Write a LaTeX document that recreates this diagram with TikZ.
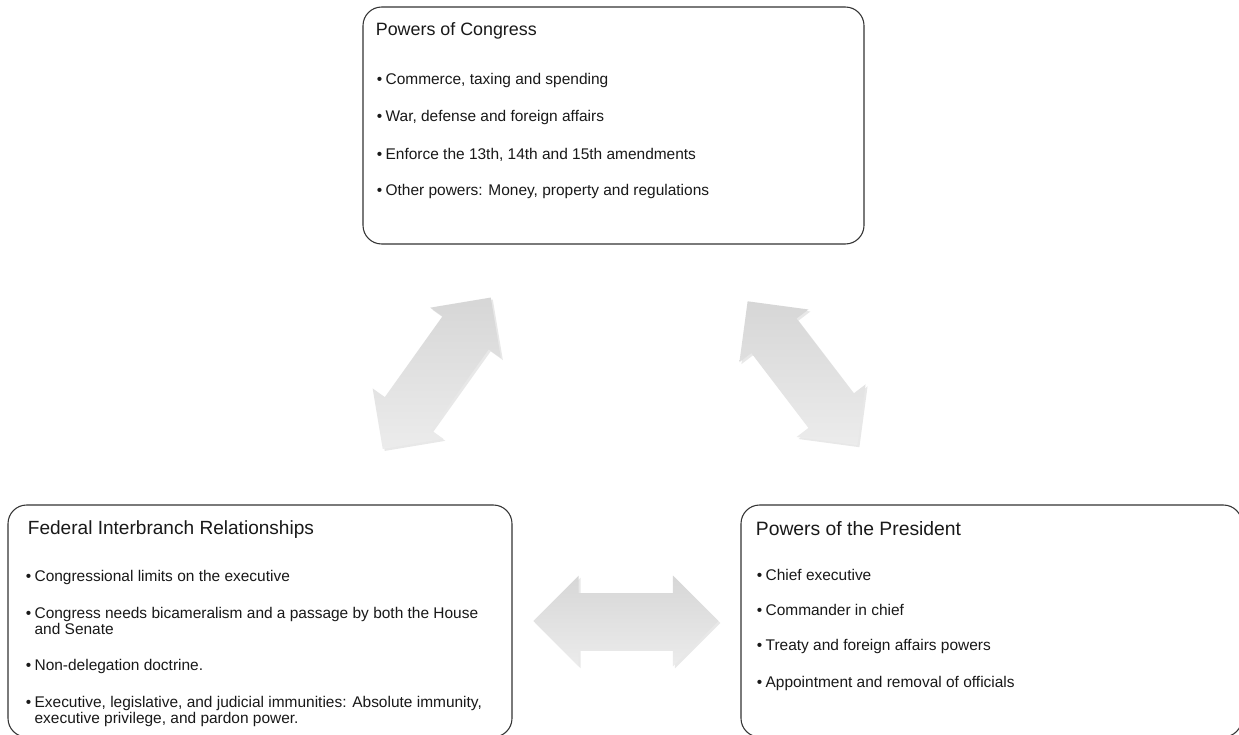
\documentclass[tikz,border=0pt]{standalone}
\usepackage{fontspec}
\setmainfont{Liberation Sans}
\usetikzlibrary{positioning, calc, shapes.arrows, shadows}

\newcommand\bitem{\textbullet\hspace{2.5pt}}
\newcommand\bcont{\hphantom{\textbullet\hspace{2.5pt}}}

\begin{document}
\begin{tikzpicture}[x=0.75pt, y=-0.75pt, semithick]
		\tikzstyle{box}=[draw=black!80, line width=0.8pt, rounded corners=14pt, fill=white, inner sep=0pt]
		\tikzstyle{title}=[anchor=west, inner sep=0pt, text=black!90]
		\tikzstyle{items}=[anchor=north west, inner sep=0pt, align=left, text=black!90, font=\fontsize{11.6}{10.4}\selectfont]
		\tikzstyle{bigarrow}=[shape=double arrow, draw=none, inner xsep=0pt, sloped, top color=gray!32, bottom color=gray!15, drop shadow={opacity=0.18, shadow xshift=1.5pt, shadow yshift=-1.5pt}]
		
		\path[use as bounding box, fill=white] (0,0) rectangle (1239,735);
		\clip (0,0) rectangle (1239,735);
		
		\node[box, minimum width=375.75pt, minimum height=177.75pt] (congress)  at (613.5,125.5) {};
		\node[box, minimum width=378pt, minimum height=174pt]       (federal)   at (260,621)     {};
		\node[box, minimum width=375.75pt, minimum height=174pt]    (president) at (991.5,621)   {};
		
		\node[title, font=\fontsize{13.4}{16}\selectfont] (congress-title)  at ([shift={(13,24)}]congress.north west)  {Powers of Congress};
		\node[title, font=\fontsize{14.3}{17}\selectfont] (federal-title)   at ([shift={(20,25)}]federal.north west)   {Federal Interbranch Relationships};
		\node[title, font=\fontsize{14.5}{17}\selectfont] (president-title) at ([shift={(15,24)}]president.north west) {Powers of the President};
		
		\node[items] (congress-list) at ([shift={(14,66)}]congress.north west)
		{\bitem Commerce, taxing and spending\\[16.6pt]
		 \bitem War, defense and foreign affairs\\[16.6pt]
		 \bitem Enforce the 13th, 14th and 15th amendments\\[16.6pt]
		 \bitem Other powers: Money, property and regulations};
		\node[items] (federal-list) at ([shift={(18,65)}]federal.north west)
		{\bitem Congressional limits on the executive\\[16.4pt]
		 \bitem Congress needs bicameralism and a passage by both the House\\
		 \bcont and Senate\\[16.4pt]
		 \bitem Non-delegation doctrine.\\[16.4pt]
		 \bitem Executive, legislative, and judicial immunities: Absolute immunity,\\
		 \bcont executive privilege, and pardon power.};
		\node[items] (president-list) at ([shift={(16,64)}]president.north west)
		{\bitem Chief executive\\[15.9pt]
		 \bitem Commander in chief\\[15.9pt]
		 \bitem Treaty and foreign affairs powers\\[15.9pt]
		 \bitem Appointment and removal of officials};
		
		\path (federal.center) -- node[bigarrow, minimum height=139.5pt, inner ysep=21pt, double arrow head extend=11.25pt] (congress-federal) {} (congress.center);
		\path (congress.center) -- node[bigarrow, minimum height=135.75pt, inner ysep=21pt, double arrow head extend=11.25pt] (congress-president) {} (president.center);
		\path (federal.center) -- node[bigarrow, minimum height=138.75pt, inner ysep=20.6pt, double arrow head extend=13.1pt] (federal-president) {} (president.center);
	\end{tikzpicture}
\end{document}
